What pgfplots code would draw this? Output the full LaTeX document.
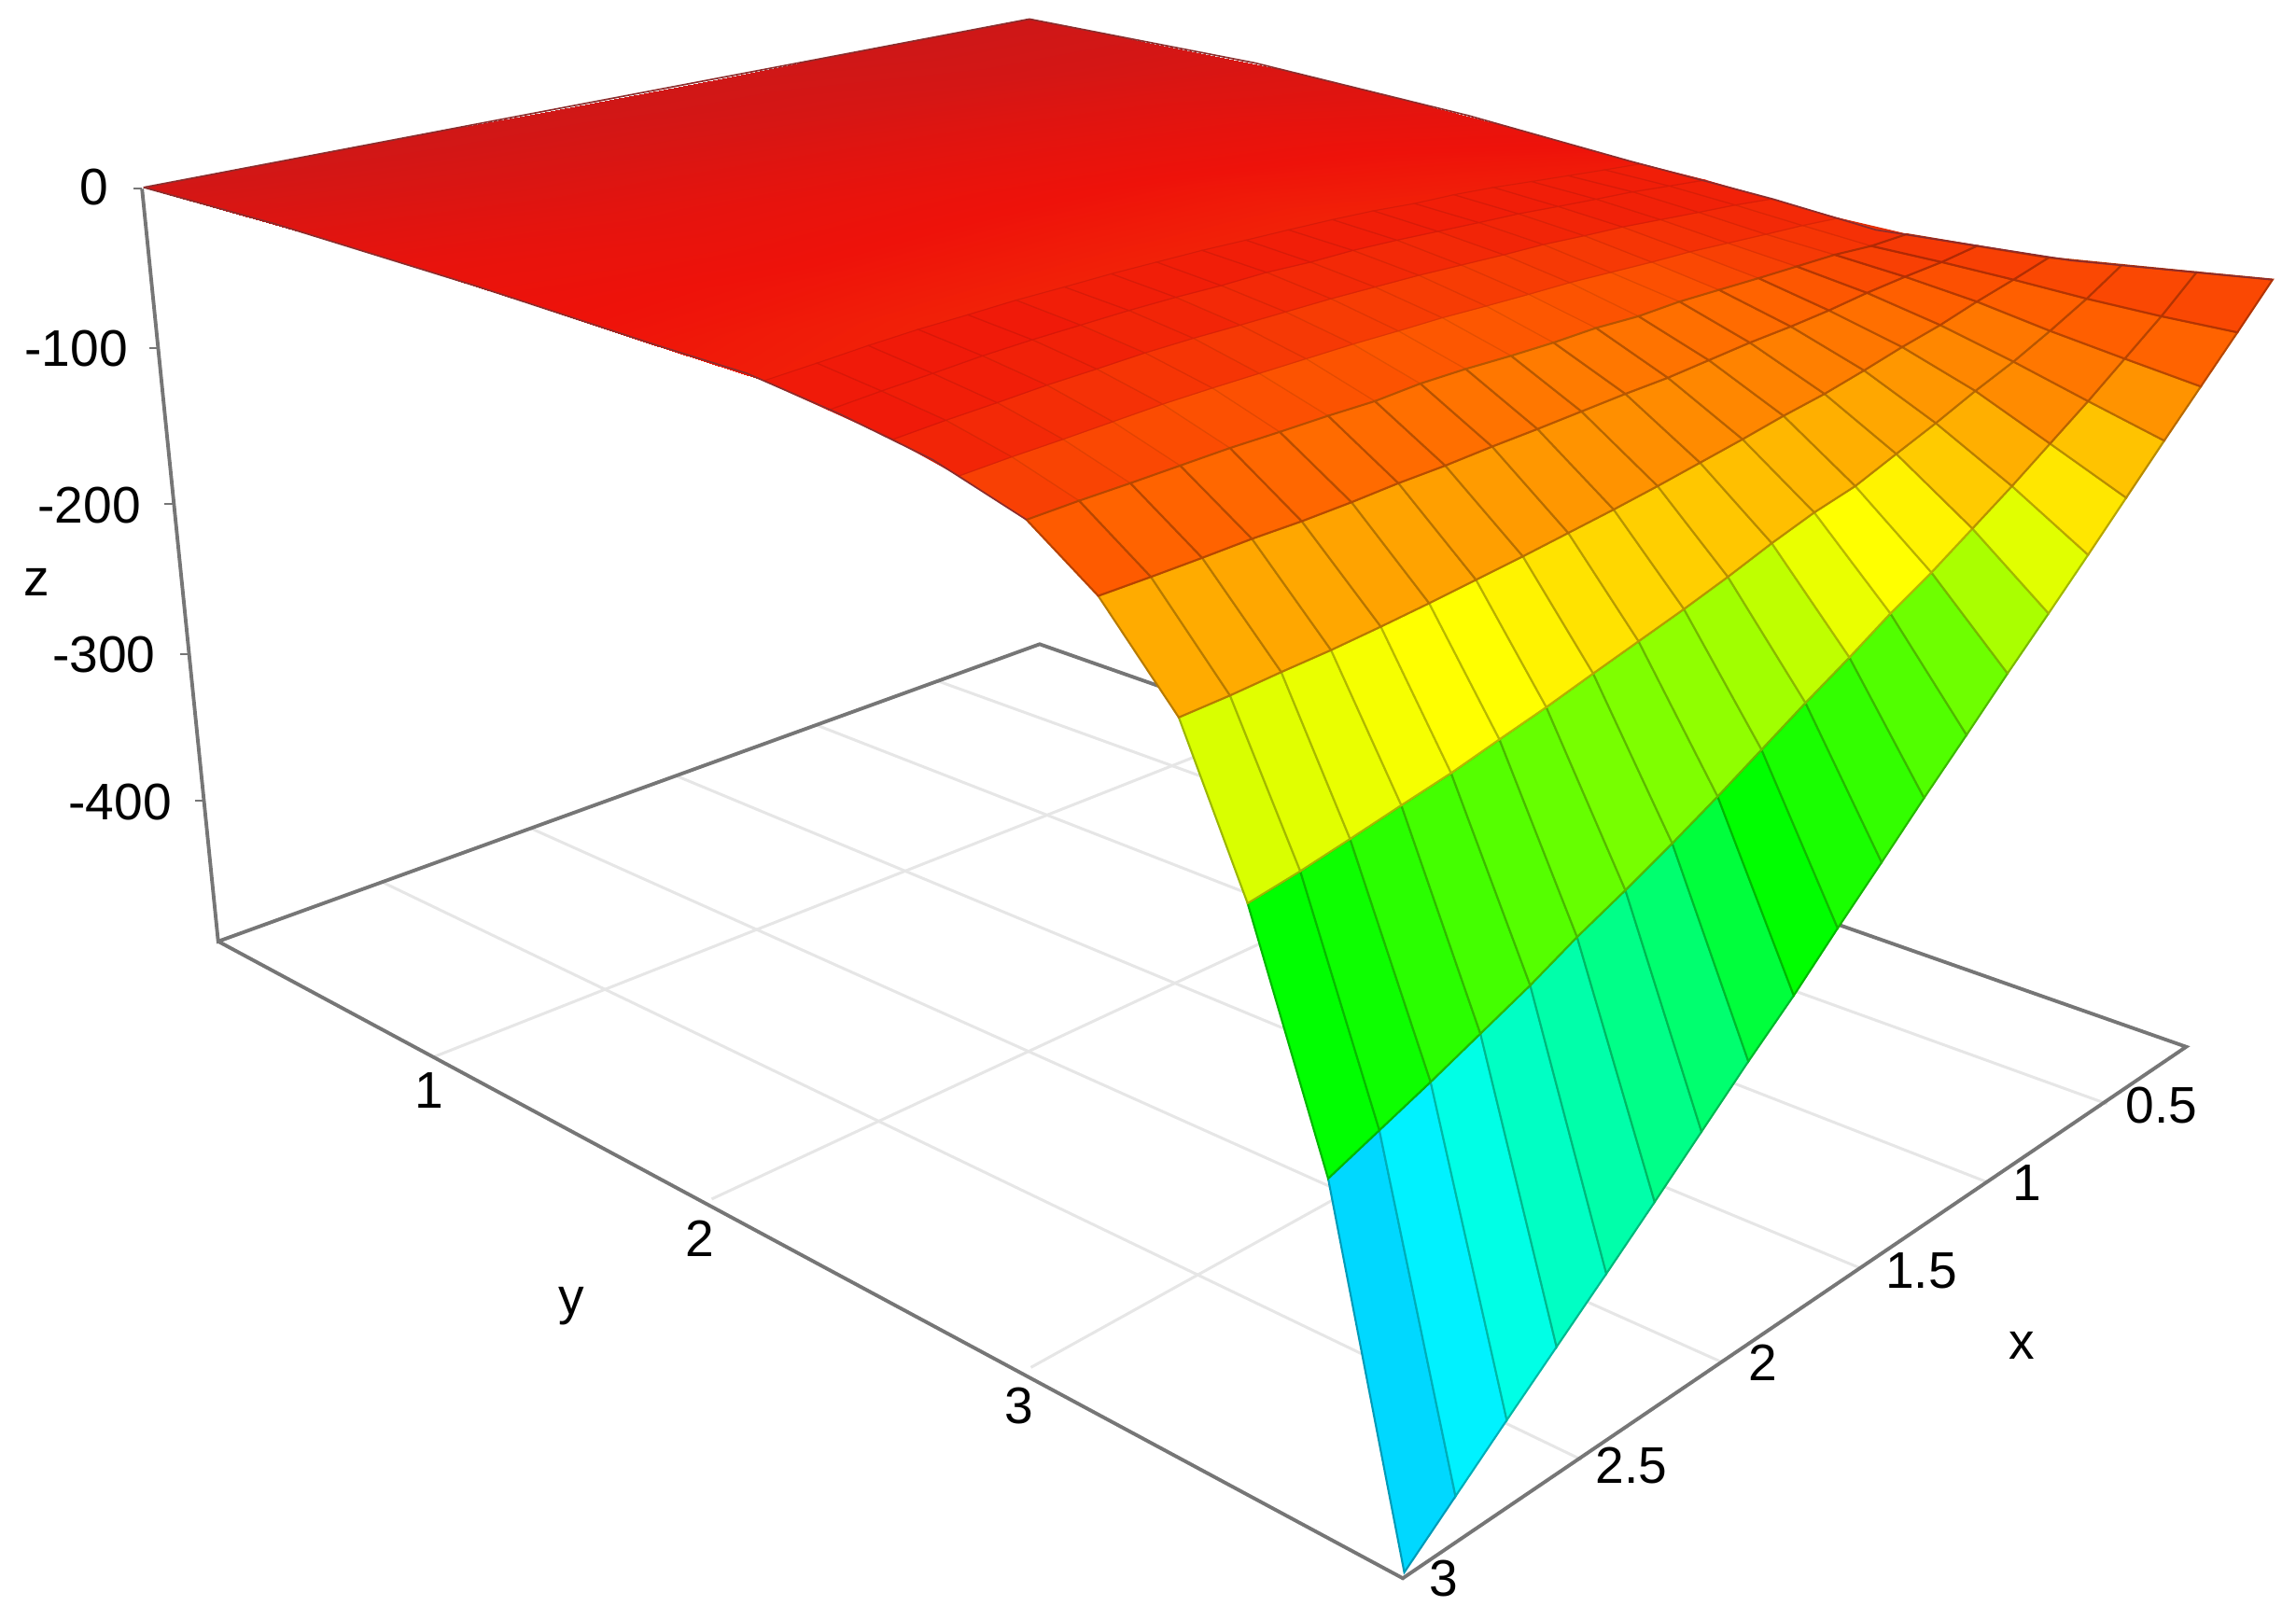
\documentclass[border=0pt]{standalone}
\usepackage{pgfplots}
\usepackage{pgfplotstable}
\usepackage{fontspec}
\setmainfont{Liberation Sans}
\pgfplotsset{compat=1.18}
\definecolor{boxline}{RGB}{118,118,118}
\definecolor{gridline}{RGB}{230,230,230}
\definecolor{labeltext}{RGB}{78,78,78}
\definecolor{rimred}{RGB}{140,45,45}

% surface as seen on screen: px py are picture positions, h is the facet colour (hue-like)
% one scanline of 21 vertices per y step, front edge first
\pgfplotstableread[row sep=\\]{
px py h\\
959 1074 192\\ 994 1022 184\\ 1029 970 174\\ 1063 920 166\\ 1097 870 160\\ 1130 821 152\\ 1162 773 146\\ 1194 725 134\\ 1225 680 120\\ 1255 634 114\\ 1285 589 108\\ 1314 545 101\\ 1343 502 94\\ 1371 460 80\\ 1399 419 67\\ 1426 379 54\\ 1452 340 45\\ 1478 301 33\\ 1503 264 21\\ 1528 227 14\\ 1552 191 14\\
907 805 120\\ 942 772 117\\ 977 739 110\\ 1011 706 104\\ 1045 673 100\\ 1077 640 96\\ 1110 608 92\\ 1142 576 90\\ 1173 544 86\\ 1203 512 82\\ 1233 480 75\\ 1263 449 65\\ 1291 419 60\\ 1319 391 57\\ 1347 361 47\\ 1374 332 40\\ 1400 303 31\\ 1426 274 26\\ 1451 245 20\\ 1476 216 14\\ 1500 186 14\\
852 617 69\\ 888 595 67\\ 922 573 65\\ 957 550 62\\ 991 528 60\\ 1024 505 60\\ 1056 483 57\\ 1088 460 53\\ 1119 438 50\\ 1150 416 48\\ 1180 394 46\\ 1210 371 44\\ 1239 350 42\\ 1267 332 40\\ 1295 310 38\\ 1322 289 34\\ 1349 267 30\\ 1375 247 26\\ 1400 226 20\\ 1425 204 14\\ 1449 181 14\\
805 490 39\\ 840 475 39\\ 875 459 38\\ 909 444 38\\ 943 428 37\\ 976 412 37\\ 1008 396 36\\ 1040 380 35\\ 1071 364 34\\ 1102 348 33\\ 1132 332 32\\ 1161 316 31\\ 1190 300 30\\ 1218 284 29\\ 1246 269 28\\ 1273 253 26\\ 1299 237 24\\ 1325 222 20\\ 1350 206 16\\ 1375 191 12\\ 1399 176 12\\
750 407 19\\ 786 394 21\\ 821 381 21\\ 855 368 22\\ 889 356 22\\ 923 343 23\\ 955 330 23\\ 987 318 24\\ 1019 305 25\\ 1050 293 26\\ 1080 281 27\\ 1110 269 26\\ 1139 258 25\\ 1167 246 24\\ 1195 234 23\\ 1223 223 21\\ 1249 212 18\\ 1275 200 15\\ 1301 189 12\\ 1326 179 10\\ 1350 168 10\\
701 355 12\\ 737 342 13\\ 772 330 14\\ 806 318 15\\ 840 306 16\\ 874 295 16\\ 907 284 17\\ 939 274 17\\ 970 262 18\\ 1001 252 18\\ 1032 243 18\\ 1061 234 18\\ 1090 224 17\\ 1119 216 17\\ 1147 206 16\\ 1174 198 14\\ 1201 190 12\\ 1227 182 10\\ 1253 174 9\\ 1278 168 8\\ 1302 160 8\\
}\frontsurf

% higher up the net fades into the red
\pgfplotstableread[row sep=\\]{
px py h\\
701 355 12\\ 737 342 13\\ 772 330 14\\ 806 318 15\\ 840 306 16\\ 874 295 16\\ 907 284 17\\ 939 274 17\\ 970 262 18\\ 1001 252 18\\ 1032 243 18\\ 1061 234 18\\ 1090 224 17\\ 1119 216 17\\ 1147 206 16\\ 1174 198 14\\ 1201 190 12\\ 1227 182 10\\ 1253 174 9\\ 1278 168 8\\ 1302 160 8\\
655 325 5\\ 691 312 6\\ 726 300 7\\ 760 288 8\\ 794 276 9\\ 828 265 9\\ 860 255 10\\ 892 245 10\\ 924 235 11\\ 955 226 11\\ 985 217 11\\ 1015 209 11\\ 1044 201 11\\ 1072 193 10\\ 1100 186 10\\ 1128 179 9\\ 1154 172 8\\ 1180 166 7\\ 1206 160 6\\ 1231 154 6\\ 1255 149 6\\
610 300 2\\ 646 287 3\\ 681 275 3\\ 715 263 4\\ 749 252 4\\ 782 241 5\\ 815 231 5\\ 847 222 6\\ 878 213 6\\ 909 204 6\\ 939 196 6\\ 969 188 6\\ 998 181 6\\ 1027 174 5\\ 1054 167 5\\ 1082 161 5\\ 1108 155 4\\ 1134 150 4\\ 1160 145 4\\ 1185 140 4\\ 1209 136 4\\
566 280 2\\ 602 267 2\\ 637 255 2\\ 671 243 2\\ 705 232 2\\ 738 222 3\\ 771 212 3\\ 803 203 3\\ 834 195 3\\ 865 186 3\\ 895 179 3\\ 924 171 3\\ 954 164 3\\ 982 158 3\\ 1010 152 3\\ 1037 146 3\\ 1064 141 3\\ 1090 136 3\\ 1115 131 3\\ 1140 127 3\\ 1164 123 3\\
522 260 2\\ 558 248 2\\ 593 236 2\\ 627 225 2\\ 661 215 2\\ 694 205 2\\ 727 196 2\\ 759 187 2\\ 790 179 2\\ 821 171 2\\ 851 164 2\\ 880 157 2\\ 910 150 2\\ 938 144 2\\ 966 139 2\\ 993 133 2\\ 1020 128 2\\ 1046 124 2\\ 1071 120 2\\ 1096 116 2\\ 1120 112 2\\
}\midsurf

% red back part, the facets melt together there, so a coarser net: 6 vertices a line
\pgfplotstableread[row sep=\\]{
px py h\\
522 260 3\\ 661 215 4\\ 790 179 4\\ 910 150 4\\ 1020 128 3\\ 1120 112 2\\
439 233 1\\ 577 190 1\\ 706 154 1\\ 825 127 1\\ 935 105 0\\ 1035 88 -2\\
357 206 -1\\ 496 165 -2\\ 624 133 -2\\ 744 106 -3\\ 854 84 -4\\ 954 67 -6\\
279 181 -3\\ 418 145 -5\\ 547 114 -6\\ 667 88 -7\\ 777 66 -8\\ 877 48 -9\\
204 158 -7\\ 343 126 -9\\ 473 98 -10\\ 593 74 -11\\ 703 52 -12\\ 804 33 -12\\
98 128 -13\\ 238 101 -14\\ 369 77 -14\\ 490 54 -14\\ 601 32 -15\\ 703 13 -15\\
}\backsurf

\begin{document}
\begin{tikzpicture}
\useasboundingbox (0,0) rectangle (15.68cm,11.06cm);
\begin{axis}[
    at={(0,0)}, anchor=south west,
    width=15.68cm, height=11.06cm, scale only axis,
    xmin=0, xmax=1568, ymin=0, ymax=1106,
    y dir=reverse,
    hide axis, clip=false,
    point meta min=-20, point meta max=200,
    colormap={facets}{
        rgb255=(195,25,28)
        rgb255=(238,18,10)
        rgb255=(255,95,0)
        rgb255=(255,175,0)
        rgb255=(255,255,0)
        rgb255=(170,255,0)
        rgb255=(85,255,0)
        rgb255=(0,255,0)
        rgb255=(0,255,85)
        rgb255=(0,255,170)
        rgb255=(0,255,255)
        rgb255=(0,190,255)
    },
    every node/.append style={font=\fontsize{9}{10}\selectfont, text=labeltext},
]
    % floor grid
    \addplot[gridline, line width=.55pt] coordinates {(640,465) (1439,754)};
    \addplot[gridline, line width=.55pt] coordinates {(557,495) (1356,807)};
    \addplot[gridline, line width=.55pt] coordinates {(462,530) (1270,866)};
    \addplot[gridline, line width=.55pt] coordinates {(363,566) (1175,930)};
    \addplot[gridline, line width=.55pt] coordinates {(260,602) (1080,997)};
    \addplot[gridline, line width=.55pt] coordinates {(296,722) (869,496)};
    \addplot[gridline, line width=.55pt] coordinates {(486,819) (1046,558)};
    \addplot[gridline, line width=.55pt] coordinates {(704,934) (1252,630)};

    % box
    \addplot[boxline, line width=.7pt] coordinates {(97,129) (149,643) (710,440) (1493,715) (958,1078) (149,643)};
    \addplot[boxline, line width=.4pt] coordinates {(91,129) (97,129)};
    \addplot[boxline, line width=.4pt] coordinates {(102,238) (108,238)};
    \addplot[boxline, line width=.4pt] coordinates {(112,344) (118,344)};
    \addplot[boxline, line width=.4pt] coordinates {(123,447) (129,447)};
    \addplot[boxline, line width=.4pt] coordinates {(133,547) (139,547)};

    % surface
    \addplot[surf, shader=interp, mesh/cols=6, point meta=explicit] table[x=px, y=py, meta=h] {\backsurf};
    \addplot[surf, shader=flat corner, draw=mapped color!90!black, line width=.2pt, mesh/cols=21, point meta=explicit]
        table[x=px, y=py, meta=h] {\midsurf};
    \addplot[surf, shader=flat corner, draw=mapped color!72!black, line width=.38pt, mesh/cols=21, point meta=explicit]
        table[x=px, y=py, meta=h] {\frontsurf};
    \addplot[rimred, line width=.3pt] coordinates {(98,128) (703,13) (857,43) (1003,79) (1113,110) (1211,136) (1281,157) (1415,178) (1552,191)};
    \addplot[rimred, line width=.3pt] coordinates {(98,128) (188,153) (327,196) (446,235) (510,255) (574,283) (637,314) (701,355)};

    % labels
    \node at (axis cs:64,128) {0};
    \node at (axis cs:52,238) {-100};
    \node at (axis cs:61,345) {-200};
    \node at (axis cs:71,447) {-300};
    \node at (axis cs:82,548) {-400};
    \node at (axis cs:25,398) {z};
    \node at (axis cs:293,745) {1};
    \node at (axis cs:478,846) {2};
    \node at (axis cs:696,960) {3};
    \node at (axis cs:390,892) {y};
    \node at (axis cs:1476,755) {0.5};
    \node at (axis cs:1384,808) {1};
    \node at (axis cs:1312,868) {1.5};
    \node at (axis cs:1204,931) {2};
    \node at (axis cs:1114,1001) {2.5};
    \node at (axis cs:986,1078) {3};
    \node at (axis cs:1381,919) {x};
\end{axis}
\end{tikzpicture}
\end{document}
